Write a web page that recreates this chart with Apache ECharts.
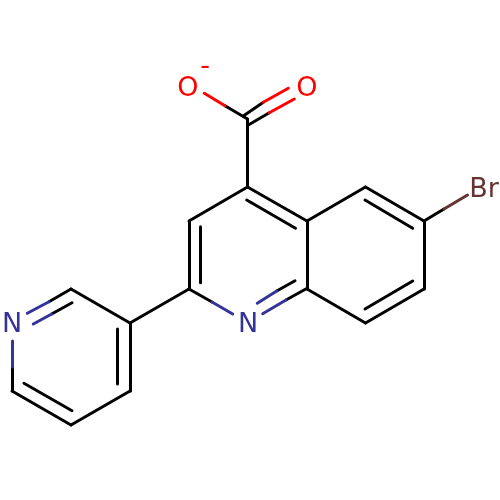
<!DOCTYPE html>
<html><head><meta charset="utf-8">
<style>html,body{margin:0;padding:0;background:#fff}#c{width:500px;height:500px}</style>
<script src="https://cdn.jsdelivr.net/npm/echarts@6/dist/echarts.min.js"></script>
</head><body><div id="c"></div>
<script>
const blackBonds = [
 [247.5,187,247.5,119],[247.5,187,189,221],[189,221,189,289],[200.7,226.7,200.7,282.7],
 [189,289,212,302],[306.7,288.5,286,300],[295,280.7,276.7,291],
 [307,289,307,221],[247.5,187,307,221],[246.7,200,295.5,228.2],
 [307,221,365.5,187],[365.5,187,424,221],[365,200,412.7,228.3],
 [424,221,424,289],[424,289,365.5,323],[412.7,281,365,309],[365.5,323,307,289],
 [424,221,444,209],[189,289,130,323],[130,323,71,289],
 [130,323,130,391],[117.7,329,117.7,384],[130,391,71,425],[71,425,12,391],[72,410.7,24,383.3],
 [12,391,12,367],[71,289,49,301.7],[72,302.7,51.7,314],
 [247.5,119,225,105.7],[243.3,116,263.3,102.3],[248.3,125,269.3,112.7]
];
const blueBonds = [
 [212,302,232.7,314],[286,300,262.7,313.7],[276.7,291,257.3,303.3],
 [12,367,12,341],[49,301.7,27.3,313.3],[51.7,314,33.3,324]
];
const redBonds = [
 [225,105.7,204.3,93.3],[263.3,102.3,288.3,88.3],[269.3,112.7,294.3,99]
];
const brownBonds = [[444,209,467.5,195]];
const atomLabels = [
 ['O',188,89,'#ff0000'],['O',307,89,'#ff0000'],['-',205,67,'#ff0000'],
 ['N',248,325,'#333399'],['N',12,325,'#333399'],['Br',484,190,'#663333']
];
const toLines = (arr,color)=>({
  type:'lines',coordinateSystem:'cartesian2d',polyline:false,silent:true,z:2,
  lineStyle:{color,width:3,opacity:1,curveness:0,cap:'round'},
  data:arr.map(b=>({coords:[[b[0],b[1]],[b[2],b[3]]]}))
});
const chart = echarts.init(document.getElementById('c'),null,{renderer:'canvas'});
chart.setOption({
  animation:false,backgroundColor:'#ffffff',
  grid:{left:0,right:0,top:0,bottom:0},
  xAxis:{type:'value',min:0,max:500,show:false},
  yAxis:{type:'value',min:0,max:500,inverse:true,show:false},
  series:[
    toLines(blackBonds,'#000000'),toLines(blueBonds,'#333399'),
    toLines(redBonds,'#ff0000'),toLines(brownBonds,'#663333'),
    {type:'scatter',symbolSize:0,silent:true,z:3,itemStyle:{opacity:1},
     data:atomLabels.map(a=>({value:[a[1],a[2]],itemStyle:{opacity:1},
       label:{show:true,position:'inside',formatter:a[0],color:a[3],opacity:1,
              fontFamily:'DejaVu Sans',fontSize:27,align:'center',verticalAlign:'middle'}}))}
  ]
});
</script></body></html>
